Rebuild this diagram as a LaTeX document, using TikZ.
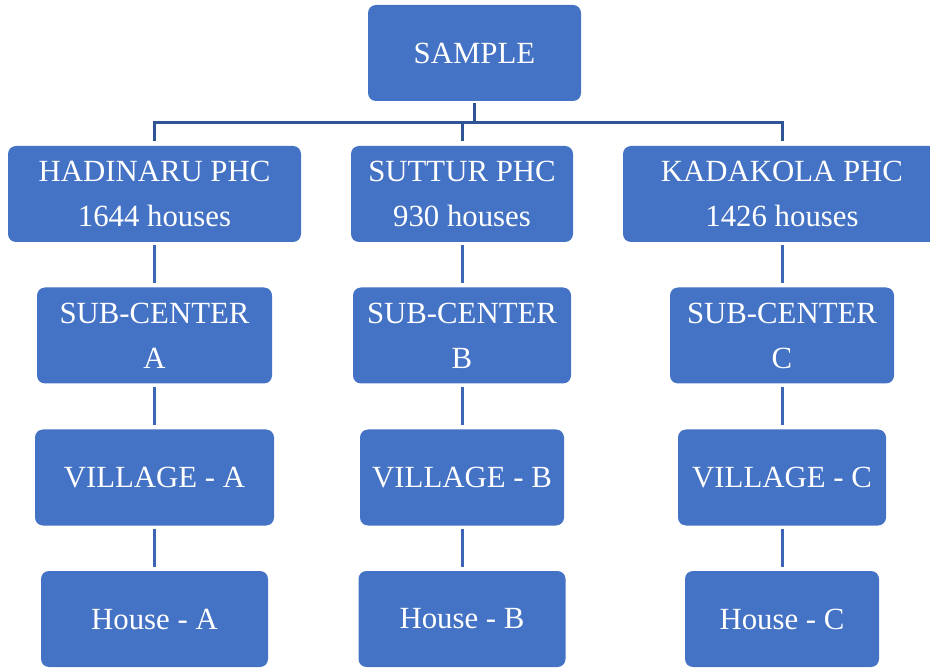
\documentclass[tikz,border=0pt]{standalone}
\usepackage{fontspec}
\setmainfont{Liberation Serif}
\definecolor{boxblue}{HTML}{4472C4}
\definecolor{treeblue}{HTML}{2F5597}
\definecolor{linkblue}{HTML}{3A66B5}
\begin{document}
\begin{tikzpicture}[x=1pt,y=-1pt,
  box/.style={fill=boxblue, rounded corners=8pt, inner sep=0pt,
    minimum height=96pt, text=white, align=center,
    font=\fontsize{30.8}{45}\selectfont},
  tree/.style={draw=treeblue, line width=3pt},
  link/.style={draw=linkblue, line width=3pt, shorten <=3pt, shorten >=4pt}]
\useasboundingbox (0,0) rectangle (930,668);
% boxes
\node[box, minimum width=213pt] (sample) at (474.5,53) {SAMPLE};
\node[box, minimum width=293pt] (had) at (154.5,194) {HADINARU PHC\\1644 houses};
\node[box, minimum width=222pt] (sut) at (462,194) {SUTTUR PHC\\930 houses};
\node[box, minimum width=318pt] (kad) at (782,194) {KADAKOLA PHC\\1426 houses};
\node[box, minimum width=235pt] (subA) at (154.5,335.5) {SUB-CENTER\\A};
\node[box, minimum width=218pt] (subB) at (462,335.5) {SUB-CENTER\\B};
\node[box, minimum width=224pt] (subC) at (782,335.5) {SUB-CENTER\\C};
\node[box, minimum width=239pt] (vilA) at (154.5,477.5) {VILLAGE - A};
\node[box, minimum width=204pt] (vilB) at (462,477.5) {VILLAGE - B};
\node[box, minimum width=208pt] (vilC) at (782,477.5) {VILLAGE - C};
\node[box, minimum width=227pt] (houA) at (154.5,619) {House - A};
\node[box, minimum width=207pt] (houB) at (462,619) {House - B};
\node[box, minimum width=194pt] (houC) at (782,619) {House - C};
% tree connector
\coordinate (bus) at (0,123);
\draw[tree, shorten <=2pt] (sample.south) -- (sample.south |- bus);
\draw[tree, line cap=rect] (had.north |- bus) -- (kad.north |- bus);
\draw[tree, shorten >=5pt] (had.north |- bus) -- (had.north);
\draw[tree, shorten >=5pt] (sut.north |- bus) -- (sut.north);
\draw[tree, shorten >=5pt] (kad.north |- bus) -- (kad.north);
% vertical links
\draw[link] (had.south) -- (subA.north);
\draw[link] (subA.south) -- (vilA.north);
\draw[link] (vilA.south) -- (houA.north);
\draw[link] (sut.south) -- (subB.north);
\draw[link] (subB.south) -- (vilB.north);
\draw[link] (vilB.south) -- (houB.north);
\draw[link] (kad.south) -- (subC.north);
\draw[link] (subC.south) -- (vilC.north);
\draw[link] (vilC.south) -- (houC.north);
\end{tikzpicture}
\end{document}
